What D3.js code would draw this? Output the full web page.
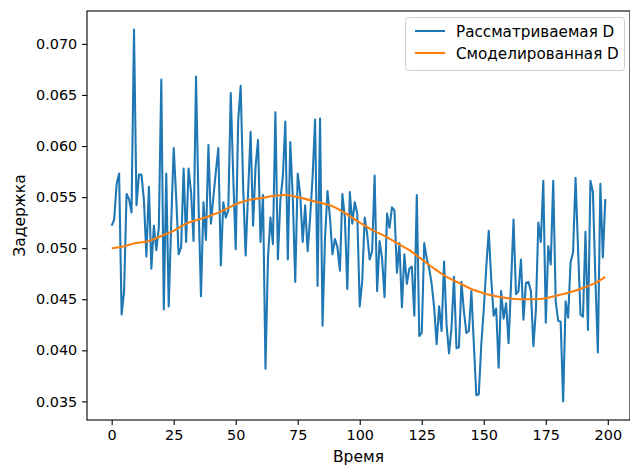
<!DOCTYPE html>
<html><head><meta charset="utf-8">
<script src="https://cdn.jsdelivr.net/npm/d3@7"></script>
<style>
html,body{margin:0;padding:0;background:#fff;}
text{font-family:"DejaVu Sans",sans-serif;}
</style></head>
<body>
<svg id="chart" width="630" height="465"></svg>
<script>
// Observed delay (blue), index 0..199
const observed = [
0.0522,0.0528,0.0563,0.0573,0.0435,0.0458,0.0553,0.0548,0.0535,0.0714,
0.0542,0.0572,0.0572,0.0547,0.0492,0.0560,0.0480,0.0522,0.0498,0.0520,
0.0665,0.0440,0.0573,0.0443,0.0525,0.0598,0.0550,0.0494,0.0501,0.0578,
0.0506,0.0578,0.0555,0.0507,0.0668,0.0545,0.0453,0.0545,0.0508,0.0601,
0.0524,0.0550,0.0575,0.0598,0.0483,0.0545,0.0530,0.0537,0.0652,0.0570,
0.0499,0.0625,0.0659,0.0560,0.0493,0.0555,0.0614,0.0522,0.0580,0.0606,
0.0506,0.0552,0.0382,0.0490,0.0530,0.0504,0.0633,0.0489,0.0547,0.0570,
0.0624,0.0489,0.0604,0.0550,0.0467,0.0573,0.0553,0.0506,0.0542,0.0497,
0.0530,0.0570,0.0626,0.0463,0.0627,0.0424,0.0510,0.0556,0.0530,0.0494,
0.0509,0.0501,0.0478,0.0553,0.0530,0.0460,0.0555,0.0524,0.0545,0.0534,
0.0443,0.0468,0.0530,0.0514,0.0489,0.0497,0.0571,0.0458,0.0507,0.0490,
0.0452,0.0534,0.0520,0.0540,0.0537,0.0476,0.0505,0.0442,0.0494,0.0465,
0.0480,0.0482,0.0434,0.0552,0.0414,0.0417,0.0505,0.0490,0.0480,0.0465,
0.0442,0.0406,0.0443,0.0419,0.0487,0.0425,0.0397,0.0422,0.0472,0.0402,
0.0403,0.0467,0.0438,0.0417,0.0419,0.0458,0.0406,0.0356,0.0357,0.0406,
0.0440,0.0481,0.0517,0.0470,0.0434,0.0441,0.0383,0.0458,0.0431,0.0446,
0.0407,0.0465,0.0528,0.0455,0.0458,0.0489,0.0430,0.0466,0.0467,0.0458,
0.0404,0.0439,0.0525,0.0506,0.0566,0.0427,0.0502,0.0484,0.0566,0.0448,
0.0429,0.0428,0.0350,0.0448,0.0432,0.0486,0.0496,0.0569,0.0500,0.0435,
0.0433,0.0516,0.0420,0.0566,0.0555,0.0470,0.0398,0.0563,0.0491,0.0548
];
// Modelled delay (orange), sampled points
const modelT = [0,5,10,15,20,25,30,35,40,45,50,55,60,65,70,75,80,85,90,95,100,105,110,115,120,125,130,135,140,145,150,155,160,165,170,175,180,185,190,195,199];
const modelD = [0.0500,0.0502,0.0505,0.0507,0.0512,0.0517,0.0524,0.0528,0.0532,0.0537,0.0543,0.0547,0.0549,0.0551,0.0552,0.0550,0.0547,0.0544,0.0540,0.0533,0.0525,0.0518,0.0512,0.0505,0.0498,0.0489,0.0480,0.0472,0.0466,0.0460,0.0456,0.0453,0.0451,0.0450,0.0450,0.0451,0.0454,0.0457,0.0461,0.0466,0.0472];
const xTicks = [0,25,50,75,100,125,150,175,200];
const yTicks = [0.035,0.040,0.045,0.050,0.055,0.060,0.065,0.070];
const seriesNames = ["Рассматриваемая D","Смоделированная D"];
const colors = ["#1f77b4","#ff7f0e"];

const svg = d3.select("#chart");
const m = {left:87, top:11, right:630, bottom:420};

const obsPts = observed.map((v,i)=>[i,v]);
const modPts = modelT.map((t,i)=>[t,modelD[i]]);
const xMin = 0, xMax = observed.length-1;
const xPad = (xMax-xMin)*0.05;
const yMin = d3.min(observed), yMax = d3.max(observed);
const yPad = (yMax-yMin)*0.05;

const x = d3.scaleLinear().domain([xMin-xPad, xMax+xPad]).range([m.left, m.right]);
const y = d3.scaleLinear().domain([yMin-yPad, yMax+yPad]).range([m.bottom, m.top]);

const line = d3.line().x(d=>x(d[0])).y(d=>y(d[1]));

const g = svg.append("g");
g.append("path").datum(obsPts).attr("d", line).attr("fill","none")
 .attr("stroke",colors[0]).attr("stroke-width",2.08).attr("stroke-linejoin","round").attr("stroke-linecap","butt");
g.append("path").datum(modPts).attr("d", line.curve(d3.curveMonotoneX)).attr("fill","none")
 .attr("stroke",colors[1]).attr("stroke-width",2.08).attr("stroke-linejoin","round");

// axes
const fs = "14.4px";
const xAxis = svg.append("g").attr("transform",`translate(0,${m.bottom})`)
 .call(d3.axisBottom(x).tickValues(xTicks).tickSize(4.9).tickPadding(4.9).tickFormat(d3.format("d")));
const yAxis = svg.append("g").attr("transform",`translate(${m.left},0)`)
 .call(d3.axisLeft(y).tickValues(yTicks).tickSize(4.9).tickPadding(4.9).tickFormat(d3.format(".3f")));
[xAxis,yAxis].forEach(a=>{
  a.select(".domain").remove();
  a.selectAll(".tick line").attr("stroke","#000").attr("stroke-width",1.1);
  a.selectAll(".tick text").attr("font-size",fs).attr("fill","#000").attr("font-family","DejaVu Sans");
});
// frame
svg.append("rect").attr("x",m.left).attr("y",m.top).attr("width",m.right-m.left).attr("height",m.bottom-m.top)
 .attr("fill","none").attr("stroke","#000").attr("stroke-width",1.1);

svg.append("text").attr("x",(m.left+m.right)/2).attr("y",462).attr("text-anchor","middle")
 .attr("font-size","15.5px").text("Время");
svg.append("text").attr("transform",`translate(25,${(m.top+m.bottom)/2}) rotate(-90)`).attr("text-anchor","middle")
 .attr("font-size","15.5px").text("Задержка");

// legend
const lg = svg.append("g");
lg.append("rect").attr("x",405.5).attr("y",17.5).attr("width",219).attr("height",53).attr("rx",3)
 .attr("fill","#fff").attr("fill-opacity",0.8).attr("stroke","#d0d0d0").attr("stroke-width",1);
seriesNames.forEach((n,i)=>{
  const yy = 31 + i*22;
  lg.append("line").attr("x1",415).attr("x2",445).attr("y1",yy).attr("y2",yy)
    .attr("stroke",colors[i]).attr("stroke-width",2.08);
  lg.append("text").attr("x",456).attr("y",yy+5.5).attr("font-size","15.2px").text(n);
});
</script>
</body></html>
